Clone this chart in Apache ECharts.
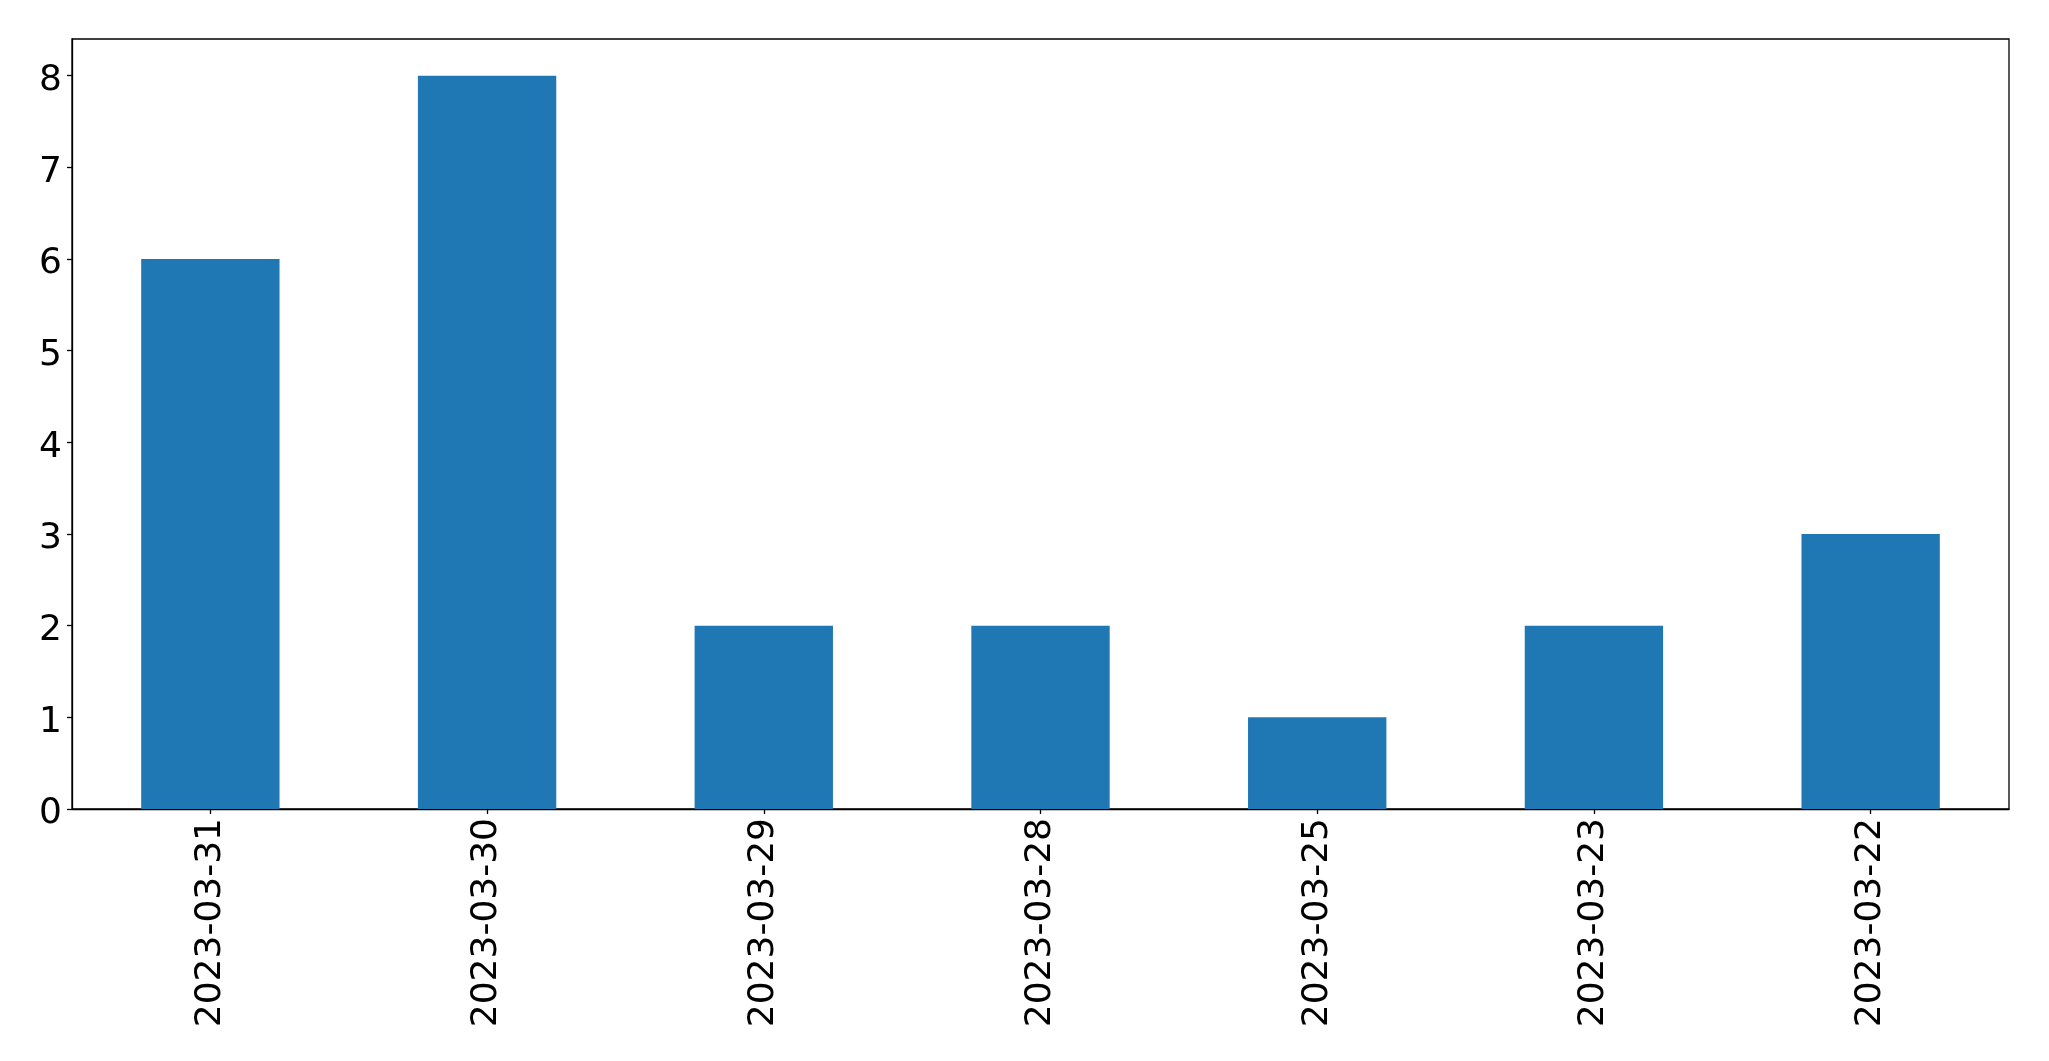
<!DOCTYPE html>
<html><head><meta charset="utf-8">
<script src="https://cdn.jsdelivr.net/npm/echarts@6/dist/echarts.min.js"></script>
<style>html,body{margin:0;padding:0;background:#fff}#c{width:2049px;height:1061px}</style>
</head><body><div id="c"></div>
<script>
const categories = ["2023-03-31","2023-03-30","2023-03-29","2023-03-28","2023-03-25","2023-03-23","2023-03-22"];
const values = [6, 8, 2, 2, 1, 2, 3];
const yTicks = [0,1,2,3,4,5,6,7,8];

const chart = echarts.init(document.getElementById('c'), null, {renderer:'canvas'});
chart.setOption({
  animation: false,
  backgroundColor: '#fff',
  textStyle: {fontFamily: 'DejaVu Sans'},
  grid: {left: 72, right: 40, top: 39, bottom: 252, show: true, borderColor: '#000', borderWidth: 1.3, backgroundColor: 'transparent'},
  xAxis: {
    type: 'category', data: categories,
    axisLine: {show: true, lineStyle: {color: '#000', width: 1.3}},
    axisTick: {show: true, alignWithLabel: true, length: 5, lineStyle: {color: '#000', width: 1.3}},
    axisLabel: {rotate: 90, fontSize: 36, color: '#000', margin: 9, fontFamily: 'DejaVu Sans'},
    splitLine: {show: false}
  },
  yAxis: {
    type: 'value', min: 0, max: 8.4, interval: 1,
    axisLine: {show: true, lineStyle: {color: '#000', width: 1.3}},
    axisTick: {show: true, length: 5, customValues: yTicks, lineStyle: {color: '#000', width: 1.3}},
    axisLabel: {
      fontSize: 36, color: '#000', margin: 10, customValues: yTicks, fontFamily: 'DejaVu Sans',
      formatter: v => '{a|' + v + '}',
      rich: {a: {fontSize: 36, color: '#000', fontFamily: 'DejaVu Sans', padding: [10, 0, 0, 0]}}
    },
    splitLine: {show: false}
  },
  series: [{
    type: 'bar', data: values, barWidth: '50%',
    itemStyle: {color: '#1f77b4'}
  }]
});
</script></body></html>
